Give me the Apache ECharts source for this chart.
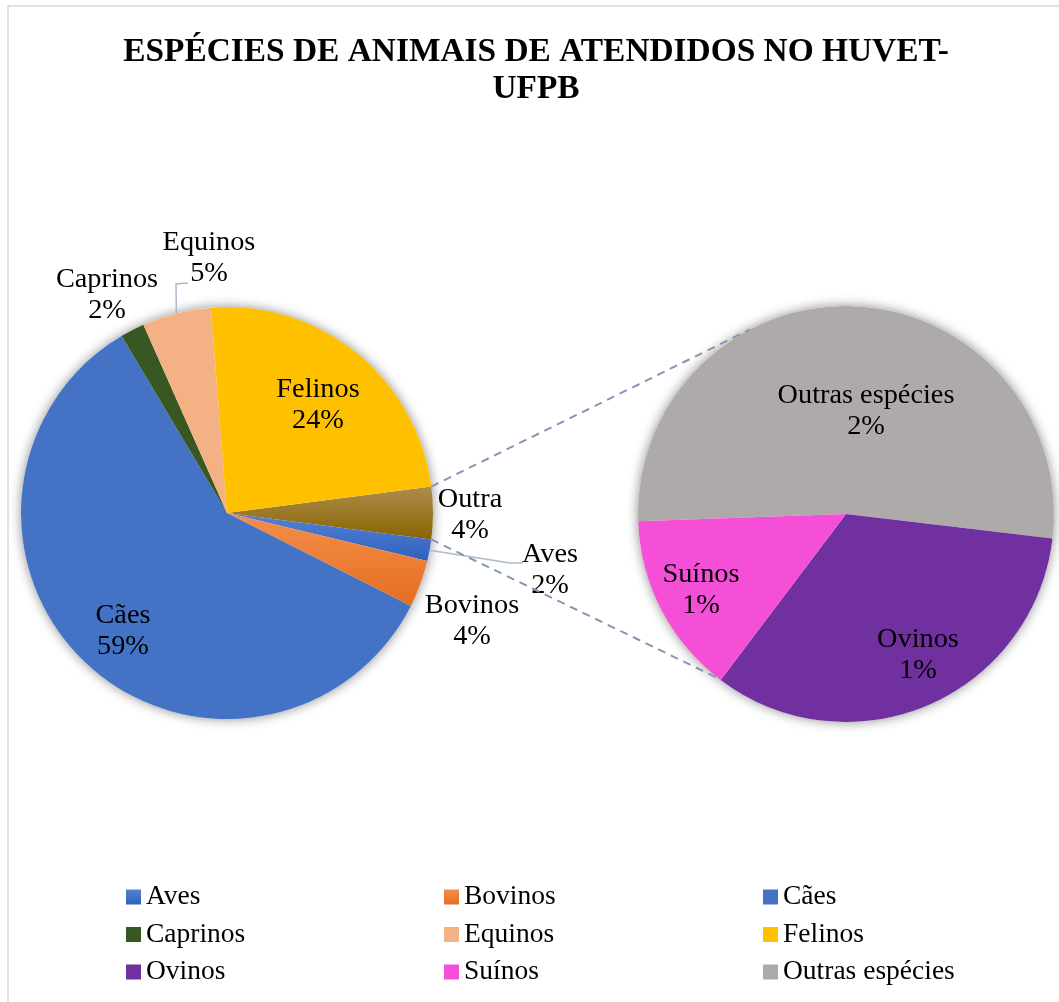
<!DOCTYPE html>
<html>
<head>
<meta charset="utf-8">
<script src="https://cdn.jsdelivr.net/npm/echarts@6/dist/echarts.min.js"></script>
<style>
html, body { margin: 0; background: #fff; }
#chart { width: 1059px; height: 1002px; }
</style>
</head>
<body>
<div id="chart"></div>
<script>
// pizza principal (% do total de atendimentos)
var mainNames = ['Aves', 'Bovinos', 'Cães', 'Caprinos', 'Equinos', 'Felinos']
var mainValues = [1.7, 3.7, 59.0, 1.9, 5.4, 24.2]
// segunda pizza: detalhe da fatia "Outra"
var subNames = ['Outras espécies', 'Ovinos', 'Suínos']
var subValues = [2.15, 1.37, 0.58]
var otherName = 'Outra'
var legendNames = ['Aves', 'Bovinos', 'Cães', 'Caprinos', 'Equinos', 'Felinos', 'Ovinos', 'Suínos', 'Outras espécies']

var otherValue = subValues.reduce(function (a, b) { return a + b }, 0)
var total = mainValues.reduce(function (a, b) { return a + b }, 0) + otherValue

var FONT = 'Liberation Serif'
var C1 = [227, 513], R1 = 206
var C2 = [846, 514], R2 = 208
var start1 = otherValue / total * 360 / 2
var start2 = 182

function grad (a, b) {
  return new echarts.graphic.LinearGradient(0, 0, 0, 1, [{ offset: 0, color: a }, { offset: 1, color: b }])
}
var colors = {
  'Outra': grad('#AB8D4E', '#8A6300'),
  'Aves': grad('#5682D2', '#2E60BE'),
  'Bovinos': grad('#F38E4B', '#E66E1E'),
  'Cães': '#4472C4',
  'Caprinos': '#385723',
  'Equinos': '#F4B183',
  'Felinos': '#FFC000',
  'Outras espécies': '#AEAAAA',
  'Ovinos': '#7030A0',
  'Suínos': '#F54FD7'
}
// posições dos rótulos relativas ao centro da pizza
var labelPos = {
  'Outra': [243, 2], 'Aves': [323, 57], 'Bovinos': [245, 108], 'Cães': [-104, 118],
  'Caprinos': [-120, -218], 'Equinos': [-18, -255], 'Felinos': [91, -108],
  'Outras espécies': [20, -103], 'Ovinos': [72, 141], 'Suínos': [-145, 76]
}

function pt (c, r, deg) {
  var a = deg * Math.PI / 180
  return [c[0] + r * Math.cos(a), c[1] - r * Math.sin(a)]
}

var mainData = [{ name: otherName, value: otherValue }].concat(mainNames.map(function (n, i) {
  return { name: n, value: mainValues[i] }
}))
mainData.forEach(function (d) {
  d.itemStyle = { color: colors[d.name] }
  if (d.name === 'Aves' || d.name === 'Equinos') {
    d.labelLine = { show: true, lineStyle: { color: '#ADB9CA', width: 1.5 } }
  }
})
var subData = subNames.map(function (n, i) {
  return { name: n, value: subValues[i], itemStyle: { color: colors[n] } }
})

// ângulos médios das fatias da pizza principal
var midAngle = {}
var acc = start1
mainData.forEach(function (d) {
  var span = d.value / total * 360
  midAngle[d.name] = acc - span / 2
  acc -= span
})

function makeLayout (data, c, r) {
  return function (p) {
    var name = data[p.dataIndex].name
    var off = labelPos[name]
    var res = { x: c[0] + off[0], y: c[1] + off[1], align: 'center', verticalAlign: 'middle' }
    if (name === 'Aves') {
      res.labelLinePoints = [pt(c, r, midAngle[name]), [c[0] + 283, c[1] + 50], [c[0] + 296, c[1] + 50]]
    }
    if (name === 'Equinos') {
      res.labelLinePoints = [pt(c, r, midAngle[name]), [c[0] - 51, c[1] - 229], [c[0] - 39, c[1] - 230]]
    }
    return res
  }
}

var labelOpt = {
  show: true,
  position: 'outside',
  color: '#000',
  fontFamily: FONT,
  fontSize: 28.3,
  lineHeight: 31,
  formatter: function (p) {
    return p.name + '\n' + Math.round(p.value / total * 100) + '%'
  }
}

var legendCols = [0, 1, 2].map(function (k) {
  return legendNames.filter(function (n, i) { return i % 3 === k })
})
var legendLeft = [121, 439, 758]
var legends = legendCols.map(function (names, k) {
  return {
    orient: 'vertical',
    left: legendLeft[k],
    top: 878,
    data: names,
    icon: 'rect',
    itemWidth: 15,
    itemHeight: 15,
    itemGap: 9.5,
    selectedMode: false,
    textStyle: { fontFamily: FONT, fontSize: 27.5, lineHeight: 28, color: '#000' }
  }
})

var outraTop = pt(C1, R1, start1)
var outraBot = pt(C1, R1, start1 - otherValue / total * 360)
var dashStyle = { stroke: '#8497B0', lineWidth: 2, lineDash: [8, 6] }

var chart = echarts.init(document.getElementById('chart'))
chart.setOption({
  backgroundColor: '#fff',
  animation: false,
  title: {
    text: 'ESPÉCIES DE ANIMAIS DE ATENDIDOS NO HUVET-\nUFPB',
    left: 531,
    top: 29,
    textAlign: 'center',
    textStyle: { fontFamily: FONT, fontWeight: 'bold', fontSize: 33.4, lineHeight: 37, color: '#000' }
  },
  legend: legends,
  graphic: [
    { type: 'rect', z: 0, shape: { x: 8, y: 6, width: 1200, height: 1200 }, style: { fill: 'none', stroke: '#D9D9D9', lineWidth: 1.5 } },
    { type: 'circle', z: 0, shape: { cx: C1[0], cy: C1[1], r: R1 }, style: { fill: '#fff', shadowBlur: 12, shadowColor: 'rgba(0,0,0,0.45)' } },
    { type: 'circle', z: 0, shape: { cx: C2[0], cy: C2[1], r: R2 }, style: { fill: '#fff', shadowBlur: 12, shadowColor: 'rgba(0,0,0,0.45)' } },
    { type: 'line', z: 10, shape: { x1: outraTop[0], y1: outraTop[1], x2: pt(C2, R2, 117.5)[0], y2: pt(C2, R2, 117.5)[1] }, style: dashStyle },
    { type: 'line', z: 10, shape: { x1: outraBot[0], y1: outraBot[1], x2: pt(C2, R2, -127.7)[0], y2: pt(C2, R2, -127.7)[1] }, style: dashStyle }
  ],
  series: [
    {
      type: 'pie',
      center: C1,
      radius: R1,
      startAngle: start1,
      clockwise: true,
      avoidLabelOverlap: false,
      label: labelOpt,
      labelLine: { show: false },
      labelLayout: makeLayout(mainData, C1, R1),
      emphasis: { disabled: true },
      data: mainData
    },
    {
      type: 'pie',
      center: C2,
      radius: R2,
      startAngle: start2,
      clockwise: true,
      avoidLabelOverlap: false,
      label: labelOpt,
      labelLine: { show: false },
      labelLayout: makeLayout(subData, C2, R2),
      emphasis: { disabled: true },
      data: subData
    }
  ]
})
</script>
</body>
</html>
